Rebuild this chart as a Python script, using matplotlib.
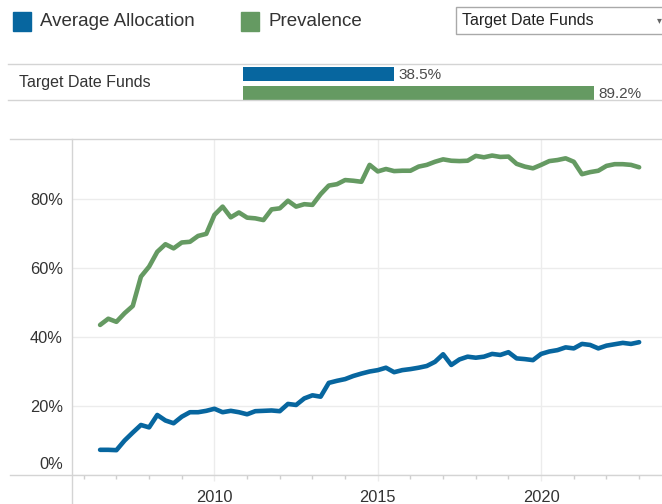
"""Target date funds: average allocation and prevalence over time."""

import matplotlib
matplotlib.use("Agg")
import matplotlib.pyplot as plt
import matplotlib.ticker as mticker
import matplotlib.transforms as mtransforms
from matplotlib.lines import Line2D
from matplotlib.patches import Rectangle
import pandas as pd

plt.rcParams["font.family"] = ["Liberation Sans", "DejaVu Sans"]

# quarterly observations, 2006Q3 .. 2023Q1
periods = pd.period_range("2006Q3", "2023Q1", freq="Q")
dates = [p.year + (p.quarter - 1) / 4 for p in periods]

avg_allocation = [
    7.3, 7.3, 7.2, 10.0, 12.3, 14.5, 13.8, 17.4, 15.8, 15.0,
    16.9, 18.2, 18.2, 18.6, 19.2, 18.2, 18.6, 18.2, 17.6, 18.5,
    18.6, 18.7, 18.5, 20.6, 20.3, 22.2, 23.1, 22.7, 26.7, 27.3,
    27.8, 28.7, 29.4, 30.0, 30.4, 31.1, 29.8, 30.4, 30.7, 31.1,
    31.6, 32.8, 35.0, 31.9, 33.5, 34.3, 34.0, 34.3, 35.1, 34.8,
    35.6, 33.8, 33.6, 33.3, 35.1, 35.8, 36.2, 37.0, 36.7, 38.0,
    37.7, 36.7, 37.5, 37.9, 38.3, 38.0, 38.5,
]
prevalence = [
    43.5, 45.3, 44.4, 46.9, 49.0, 57.5, 60.4, 64.7, 66.9, 65.7,
    67.4, 67.6, 69.3, 69.9, 75.4, 77.8, 74.7, 76.1, 74.6, 74.4,
    73.9, 77.0, 77.3, 79.5, 77.8, 78.5, 78.3, 81.4, 83.9, 84.3,
    85.5, 85.3, 85.0, 89.9, 88.0, 88.7, 88.1, 88.2, 88.2, 89.4,
    89.9, 90.8, 91.5, 91.1, 91.0, 91.1, 92.5, 92.1, 92.6, 92.2,
    92.3, 90.2, 89.4, 88.9, 89.9, 91.0, 91.3, 91.8, 90.8, 87.2,
    87.8, 88.2, 89.6, 90.1, 90.1, 89.9, 89.2,
]

series_names = ["Average Allocation", "Prevalence"]
latest_values = [38.5, 89.2]
category = "Target Date Funds"

y_ticks = [0, 20, 40, 60, 80]
x_major = [2010, 2015, 2020]
x_minor = list(range(2006, 2024))

BLUE = "#07669f"
GREEN = "#659a62"
TEXT = "#333333"
LINE = "#d4d4d4"
GRID = "#ececec"

W, H = 662, 504


def fx(px):
    return px / W


def fy(py):
    return 1 - py / H


fig = plt.figure(figsize=(W / 100, H / 100), dpi=100)

# legend across the top
for x0, name, color in [(13, series_names[0], BLUE), (241, series_names[1], GREEN)]:
    fig.add_artist(Rectangle((fx(x0), fy(31)), fx(18), 19 / H,
                             transform=fig.transFigure, color=color))
    fig.text(fx(x0 + 27), fy(22), name, fontsize=13.5, color=TEXT, va="center")

# dropdown box
fig.add_artist(Rectangle((fx(456), fy(34)), fx(220), 27 / H, transform=fig.transFigure,
                         facecolor="white", edgecolor="#a9a9a9", lw=1))
fig.text(fx(462), fy(21), category, fontsize=11.5, color="#222222", va="center")
fig.text(fx(657), fy(20), "\u25be", fontsize=7, color="#666666", va="center")

# summary row
for y in (64, 100):
    fig.add_artist(Line2D([fx(8), 1], [fy(y), fy(y)], transform=fig.transFigure,
                          color=LINE, lw=1))
fig.text(fx(19), fy(83), category, fontsize=11.5, color=TEXT, va="center")

axb = fig.add_axes([fx(242.6), fy(100), fx(636.8) - fx(242.6), fy(64) - fy(100)])
axb.barh([0, 1], latest_values, height=0.74, color=[BLUE, GREEN])
axb.set_xlim(0, 100)
axb.set_ylim(1.38, -0.51)
axb.axis("off")
for i, v in enumerate(latest_values):
    axb.annotate(f"{v:.1f}%", (v, i), xytext=(4, -1), textcoords="offset pixels",
                 va="center", ha="left", fontsize=11, color="#4a4a4a",
                 annotation_clip=False)

# main line chart
ax = fig.add_axes([fx(72), fy(475), 1 - fx(72), fy(139) - fy(475)])
ax.plot(dates, prevalence, color=GREEN, lw=3.3, solid_joinstyle="round",
        solid_capstyle="round")
ax.plot(dates, avg_allocation, color=BLUE, lw=3.3, solid_joinstyle="round",
        solid_capstyle="round")
ax.set_xlim(2005.64, 2023.70)
ax.set_ylim(0, 97.4)

for s in ax.spines.values():
    s.set_visible(False)

ax.set_yticks(y_ticks)
ax.yaxis.set_major_formatter(mticker.FuncFormatter(lambda v, _: f"{v:.0f}%"))
ax.set_xticks(x_major)
ax.set_xticks(x_minor, minor=True)
ax.tick_params(axis="y", length=0, pad=6.5, labelsize=11.8, labelcolor=TEXT)
ax.tick_params(axis="x", which="major", length=4, width=1, color=GRID, pad=6.5,
               labelsize=11.8, labelcolor=TEXT)
ax.tick_params(axis="x", which="minor", length=3, width=1, color="#cfcfcf")
ax.grid(True, which="major", color=GRID, lw=1)
ax.set_axisbelow(True)

# lift the 0% label above the axis line
zero_label = ax.yaxis.get_major_ticks()[0].label1
zero_label.set_transform(zero_label.get_transform() +
                         mtransforms.ScaledTranslation(0, 12 / 100, fig.dpi_scale_trans))

# frame lines
fig.add_artist(Line2D([fx(10), 1], [fy(139), fy(139)], transform=fig.transFigure,
                      color=LINE, lw=1))
fig.add_artist(Line2D([fx(10), 1], [fy(475), fy(475)], transform=fig.transFigure,
                      color=LINE, lw=1))
fig.add_artist(Line2D([fx(72), fx(72)], [0, fy(139)], transform=fig.transFigure,
                      color=LINE, lw=1))

fig.savefig("out.png", dpi=100)
